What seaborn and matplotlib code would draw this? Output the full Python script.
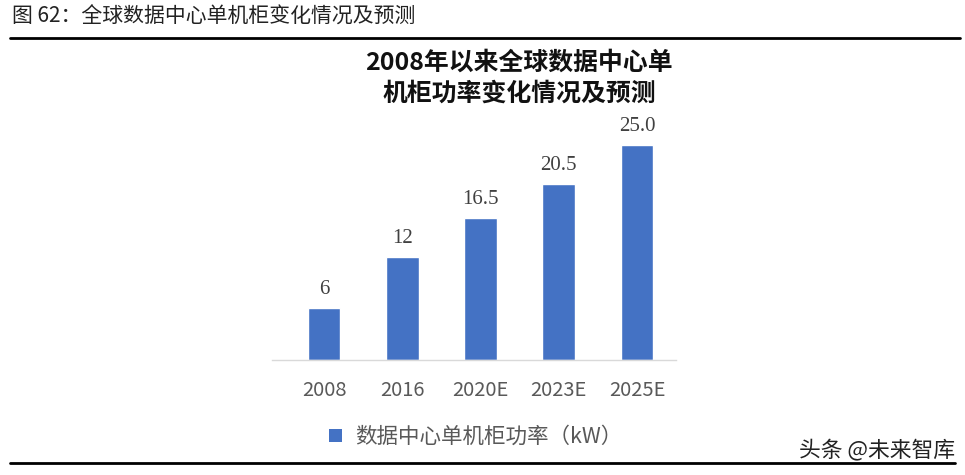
import matplotlib
matplotlib.use('Agg')
import matplotlib.pyplot as plt
import seaborn as sns
from matplotlib.lines import Line2D
from matplotlib.patches import Patch

# 数据
categories = ['2008', '2016', '2020E', '2023E', '2025E']
values = [6, 12, 16.5, 20.5, 25.0]
value_labels = ['6', '12', '16.5', '20.5', '25.0']
series_name = '数据中心单机柜功率（kW）'

sns.set_theme(style='white')
plt.rcParams['font.family'] = ['Noto Sans CJK SC', 'DejaVu Sans']

W, H = 965, 475
fig = plt.figure(figsize=(W / 100, H / 100), dpi=100)

# 坐标轴位置 (像素)
ax_left, ax_right, ax_base, ax_top = 272, 676, 360, 119
ax = fig.add_axes([ax_left / W, (H - ax_base) / H, (ax_right - ax_left) / W, (ax_base - ax_top) / H])

sns.barplot(x=categories, y=values, color='#4472C4', width=0.42, saturation=1, ax=ax)
ax.set_xlim(-0.665, 4.498)
ax.set_ylim(0, 28)
ax.set_yticks([])
ax.set_xlabel('')
ax.set_ylabel('')
for s in ['top', 'left', 'right']:
    ax.spines[s].set_visible(False)
ax.spines['bottom'].set_color('#d9d9d9')
ax.spines['bottom'].set_linewidth(1)
ax.tick_params(axis='x', length=0, pad=14.5, labelsize=14.5, labelcolor='#595959')

for i, (v, lab) in enumerate(zip(values, value_labels)):
    ax.annotate(lab, (i, v), xytext=(0, 6.5), textcoords='offset points',
                ha='center', va='bottom', fontsize=15, color='#404040',
                family='Liberation Serif', clip_on=False)

# 图表标题
fig.text(519 / W, 1 - 78.5 / H, '2008年以来全球数据中心单\n机柜功率变化情况及预测',
         ha='center', va='center', fontsize=17.9, fontweight='bold', color='#111111',
         linespacing=1.38)

# 图例
handles = [Patch(facecolor='#4472C4', edgecolor='none', label=series_name)]
fig.legend(handles=handles, loc='center', bbox_to_anchor=(476 / W, 1 - 437 / H),
           frameon=False, fontsize=15.5, labelcolor='#595959', handlelength=0.6,
           handleheight=0.6, handletextpad=0.6)

# 页眉和页脚
fig.text(12 / W, 1 - 17 / H, '图 62：全球数据中心单机柜变化情况及预测',
         ha='left', va='center', fontsize=15, color='#222222')
fig.lines.append(Line2D([10 / W, 960 / W], [1 - 38 / H, 1 - 38 / H],
                        transform=fig.transFigure, color='black', linewidth=2))
fig.lines.append(Line2D([10 / W, 955 / W], [1 - 463 / H, 1 - 463 / H],
                        transform=fig.transFigure, color='black', linewidth=2))
fig.text(955 / W, 1 - 450 / H, '头条 @未来智库', ha='right', va='center',
         fontsize=15.7, color='#222222')

fig.savefig('out.png', dpi=100)
